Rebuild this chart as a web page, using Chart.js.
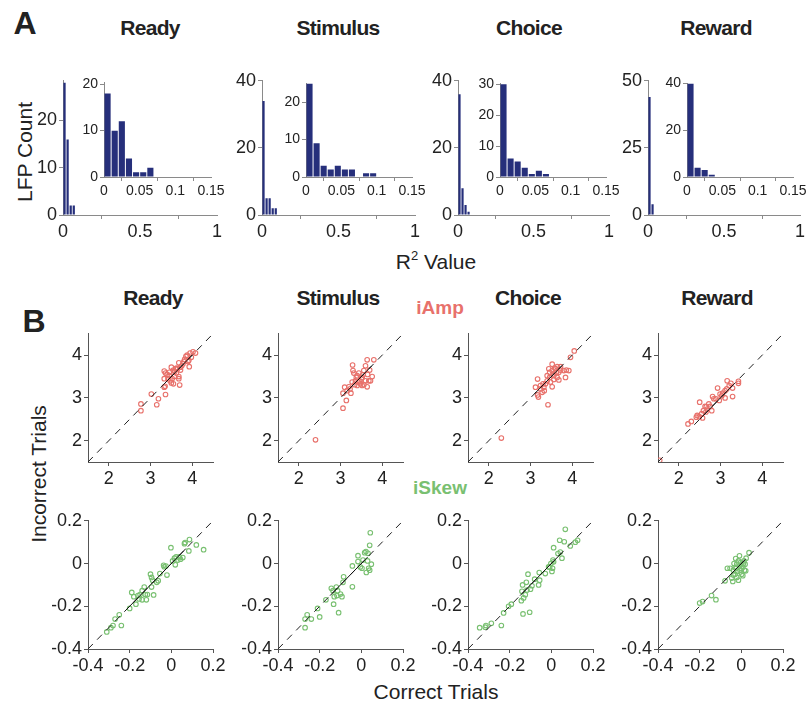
<!DOCTYPE html>
<html><head><meta charset="utf-8">
<script src="https://cdn.jsdelivr.net/npm/chart.js@4.4.0/dist/chart.umd.min.js"></script>
<style>
body{margin:0;background:#fff;width:808px;height:702px;position:relative;overflow:hidden;font-family:"Liberation Sans",Arial,sans-serif;color:#222}
canvas{position:absolute}
.t{position:absolute;white-space:nowrap;transform:translate(-50%,-50%);line-height:1}
.title{font-size:21px;font-weight:bold;letter-spacing:-0.7px}
.lab{font-size:21px}
.v{transform:translate(-50%,-50%) rotate(-90deg)}
</style></head><body>
<div class="t" style="left:25px;top:23px;font-size:32px;font-weight:bold">A</div>
<div class="t" style="left:34px;top:321px;font-size:32px;font-weight:bold">B</div>
<div class="t title" style="left:150px;top:27px">Ready</div>
<div class="t title" style="left:338px;top:27px">Stimulus</div>
<div class="t title" style="left:529px;top:27px">Choice</div>
<div class="t title" style="left:716px;top:27px">Reward</div>
<div class="t title" style="left:153px;top:297px">Ready</div>
<div class="t title" style="left:338px;top:297px">Stimulus</div>
<div class="t title" style="left:528px;top:297px">Choice</div>
<div class="t title" style="left:717px;top:297px">Reward</div>
<div class="t lab v" style="left:24px;top:152px">LFP Count</div>
<div class="t lab" style="left:436px;top:261px">R<sup style="font-size:13px;vertical-align:9px;line-height:0">2</sup> Value</div>
<div class="t lab v" style="left:38px;top:474px">Incorrect Trials</div>
<div class="t lab" style="left:436px;top:691px">Correct Trials</div>
<div class="t" style="left:440px;top:307px;font-size:19px;font-weight:bold;color:#e8716b">iAmp</div>
<div class="t" style="left:440px;top:487px;font-size:19px;font-weight:bold;color:#79c071">iSkew</div>
<script>
// ---------- DATA ----------
const events = ['Ready', 'Stimulus', 'Choice', 'Reward'];
const mainBinWidth = 0.02;
const insetBinWidth = 0.01;
const mainCountsReady = [28, 16, 2, 2];
const mainCountsStimulus = [34, 5, 5, 2, 2];
const mainCountsChoice = [36, 8, 3, 1];
const mainCountsReward = [44, 4];
const insetCountsReady = [18, 10, 12, 4, 1, 1, 2];
const insetCountsStimulus = [25, 9, 3, 2, 3, 2, 2, 0, 1, 1];
const insetCountsChoice = [30, 6, 5, 3, 1, 2, 1];
const insetCountsReward = [40, 4, 3, 1];
const mainXTicks = [0, 0.5, 1];
const insetXTicks = [0, 0.05, 0.1, 0.15];
const mainYTicks = [[0, 10, 20], [0, 20, 40], [0, 20, 40], [0, 25, 50]];
const mainYMax = [28.4, 40, 40, 50];
const insetYTicks = [[0, 10, 20], [0, 10, 20], [0, 10, 20, 30], [0, 20, 40]];
const insetYMax = [20.4, 25, 30.3, 40];

const ampTicks = [2, 3, 4];
const ampRange = [1.5, 4.5];
const skewTicks = [-0.4, -0.2, 0, 0.2];
const skewRange = [-0.4, 0.2];

const ampReady = [[2.77,2.86],[2.77,2.70],[3.02,3.09],[3.15,2.84],[3.19,2.98],[3.33,3.25],[3.35,3.27],[3.36,3.08],[3.33,3.63],[3.36,3.58],[3.33,3.45],[3.4,3.55],[3.42,3.45],[3.45,3.6],[3.47,3.4],[3.5,3.35],[3.52,3.45],[3.55,3.33],[3.5,3.72],[3.55,3.65],[3.57,3.5],[3.6,3.68],[3.62,3.7],[3.65,3.68],[3.68,3.5],[3.68,3.45],[3.7,3.3],[3.68,3.82],[3.72,3.72],[3.75,3.75],[3.78,3.8],[3.8,3.85],[3.82,3.9],[3.85,3.97],[3.88,4.0],[3.9,3.85],[3.92,3.88],[3.93,3.73],[3.95,4.05],[3.98,3.95],[4.02,4.08],[4.08,4.05],[3.62,3.58],[3.45,3.52],[3.58,3.62],[3.72,3.65]];
const ampStimulus = [[2.4,2.02],[3.06,2.76],[3.14,2.94],[3.06,3.11],[3.25,3.11],[3.1,3.25],[3.2,3.26],[3.28,3.37],[3.29,3.77],[3.3,3.64],[3.32,3.58],[3.4,3.52],[3.42,3.37],[3.48,3.33],[3.52,3.29],[3.56,3.31],[3.44,3.58],[3.5,3.44],[3.56,3.64],[3.6,3.75],[3.64,3.89],[3.65,3.55],[3.7,3.65],[3.8,3.89],[3.76,3.5],[3.72,3.4],[3.64,3.26],[3.6,3.4],[3.36,3.4],[3.38,3.48],[3.52,3.48],[3.23,3.21],[3.16,3.17],[3.34,3.31],[3.46,3.4],[3.54,3.54],[3.68,3.4],[3.4,3.29]];
const ampChoice = [[2.3,2.06],[3.42,2.84],[3.17,3.07],[3.19,3.02],[3.17,3.44],[3.12,3.25],[3.24,3.21],[3.32,3.25],[3.33,3.17],[3.3,3.33],[3.4,3.4],[3.44,3.68],[3.46,3.48],[3.52,3.26],[3.52,3.79],[3.54,3.56],[3.56,3.43],[3.6,3.68],[3.64,3.73],[3.68,3.6],[3.72,3.65],[3.68,3.42],[3.8,3.64],[3.84,3.48],[3.86,3.65],[3.92,3.64],[3.96,3.95],[4.05,4.1],[3.48,3.37],[3.56,3.52],[3.62,3.6],[3.4,3.52],[3.36,3.33],[3.24,3.29],[3.28,3.13],[3.46,3.6],[3.52,3.64],[3.58,3.7],[3.64,3.48],[3.72,3.73]];
const ampReward = [[1.54,1.54],[2.22,2.39],[2.3,2.45],[2.44,2.59],[2.49,2.56],[2.55,2.63],[2.5,2.9],[2.59,2.7],[2.63,2.8],[2.68,2.74],[2.72,2.86],[2.79,2.7],[2.81,3.03],[2.89,2.98],[2.93,3.23],[2.97,2.94],[2.99,3.09],[3.05,3.11],[3.11,3.17],[3.11,3.0],[3.16,3.4],[3.21,3.29],[3.25,3.34],[3.29,3.23],[3.29,3.03],[3.43,3.39],[3.43,3.34],[2.57,2.53],[2.65,2.67],[2.75,2.8],[2.84,2.98],[3.03,3.05],[3.15,3.21],[2.42,2.55],[2.66,2.79]];
const skewReady = [[-0.31,-0.32],[-0.29,-0.30],[-0.28,-0.29],[-0.27,-0.26],[-0.25,-0.24],[-0.24,-0.29],[-0.2,-0.21],[-0.19,-0.135],[-0.18,-0.155],[-0.17,-0.19],[-0.16,-0.15],[-0.15,-0.145],[-0.14,-0.127],[-0.14,-0.17],[-0.13,-0.11],[-0.125,-0.145],[-0.12,-0.17],[-0.1,-0.05],[-0.095,-0.065],[-0.09,-0.078],[-0.095,-0.11],[-0.085,-0.147],[-0.07,-0.088],[-0.063,-0.08],[-0.055,-0.047],[-0.037,-0.008],[-0.034,-0.015],[-0.026,-0.012],[-0.021,-0.054],[-0.002,0.074],[0.006,0.012],[0.015,0.025],[0.019,-0.006],[0.023,0.031],[0.031,0.016],[0.039,0.031],[0.044,0.02],[0.055,0.028],[0.063,0.093],[0.066,0.098],[0.084,0.059],[0.087,0.112],[0.12,0.087],[0.155,0.065],[-0.115,-0.145],[-0.155,-0.166]];
const skewStimulus = [[-0.27,-0.3],[-0.27,-0.26],[-0.26,-0.24],[-0.24,-0.26],[-0.21,-0.21],[-0.2,-0.25],[-0.17,-0.17],[-0.144,-0.116],[-0.133,-0.19],[-0.13,-0.155],[-0.12,-0.11],[-0.117,-0.15],[-0.109,-0.23],[-0.1,-0.143],[-0.093,-0.155],[-0.088,-0.088],[-0.085,-0.062],[-0.136,-0.127],[-0.114,-0.127],[-0.043,-0.109],[-0.043,-0.011],[-0.016,0.037],[-0.016,0.009],[-0.005,-0.016],[0.003,-0.022],[0.008,0.016],[0.016,0.051],[0.022,0.056],[0.024,-0.042],[0.03,0.012],[0.032,0.048],[0.035,-0.022],[0.04,0.085],[0.043,0.144],[0.048,-0.003],[0.04,-0.031]];
const skewChoice = [[-0.344,-0.3],[-0.317,-0.298],[-0.314,-0.29],[-0.288,-0.28],[-0.24,-0.29],[-0.229,-0.231],[-0.205,-0.2],[-0.192,-0.19],[-0.144,-0.174],[-0.141,-0.13],[-0.138,-0.1],[-0.136,-0.236],[-0.133,-0.161],[-0.125,-0.146],[-0.12,-0.088],[-0.117,-0.124],[-0.112,-0.05],[-0.104,-0.228],[-0.1,-0.12],[-0.093,-0.104],[-0.08,-0.073],[-0.061,-0.1],[-0.058,-0.042],[-0.056,-0.078],[-0.029,-0.047],[-0.013,-0.016],[-0.002,0.0],[0.003,-0.037],[0.006,-0.022],[0.008,0.016],[0.011,0.074],[0.011,0.008],[0.032,0.047],[0.04,0.109],[0.043,0.054],[0.051,0.025],[0.062,0.102],[0.067,0.16],[0.091,0.082],[0.115,0.1],[0.126,0.109],[-0.008,-0.016]];
const skewReward = [[-0.2,-0.185],[-0.186,-0.178],[-0.143,-0.15],[-0.122,-0.169],[-0.078,-0.081],[-0.067,-0.022],[-0.054,-0.022],[-0.046,-0.068],[-0.041,-0.084],[-0.038,-0.031],[-0.035,0.0],[-0.03,-0.05],[-0.027,0.023],[-0.025,-0.022],[-0.022,-0.003],[-0.019,-0.037],[-0.014,0.012],[-0.009,0.036],[-0.009,-0.011],[-0.006,-0.031],[-0.003,0.005],[-0.001,-0.022],[0.002,-0.05],[0.007,-0.016],[0.01,0.0],[0.013,0.012],[0.015,-0.031],[0.018,-0.003],[0.021,-0.034],[0.023,0.025],[0.007,-0.057],[-0.014,-0.078],[0.037,0.051],[-0.022,-0.065],[-0.038,-0.054],[-0.03,-0.019]];
// short solid segments of the identity line over each cluster
const ampSegments = [[3.35, 4.0], [3.1, 3.75], [3.1, 3.75], [2.5, 3.3]];
const skewSegments = [[-0.22, 0.07], [-0.15, 0.03], [-0.15, 0.05], [-0.08, 0.02]];

// ---------- RENDER ----------
const NAVY = '#262f7b', RED = '#e8716b', GREEN = '#79c071';
const FONT = '"Liberation Sans", Arial, sans-serif';
Chart.defaults.font.family = FONT;
Chart.defaults.color = '#222';

function fmt(v) { return String(+(+v).toFixed(4)); }

function axis(ticks, min, max, fontSize, col) {
  return {
    type: 'linear', min: min, max: max, offset: false,
    afterBuildTicks: s => { s.ticks = ticks.map(v => ({ value: v })); },
    ticks: { font: { size: fontSize }, padding: 2, maxRotation: 0, autoSkip: false, callback: fmt, color: '#222' },
    grid: { display: true, drawOnChartArea: false, drawTicks: true, tickLength: 4, color: col, lineWidth: 1 },
    border: { display: true, color: col, width: 1 }
  };
}

function makeChart(area, pad, config) {
  const c = document.createElement('canvas');
  const w = area.w + pad.l + pad.r, h = area.h + pad.t + pad.b;
  c.width = w; c.height = h;
  c.style.left = (area.x - pad.l) + 'px'; c.style.top = (area.y - pad.t) + 'px';
  c.style.width = w + 'px'; c.style.height = h + 'px';
  document.body.appendChild(c);
  config.options.responsive = false;
  config.options.animation = false;
  config.options.layout = { padding: { top: pad.t, right: pad.r, left: 0, bottom: 0 } };
  config.options.plugins = { legend: { display: false }, tooltip: { enabled: false } };
  config.options.scales.x.afterFit = s => { s.height = pad.b; };
  config.options.scales.y.afterFit = s => { s.width = pad.l; };
  return new Chart(c, config);
}

function binned(counts, width) {
  return counts.map((c, i) => ({ x: (i + 0.5) * width, y: c }));
}

const mainCounts = [mainCountsReady, mainCountsStimulus, mainCountsChoice, mainCountsReward];
const insetCounts = [insetCountsReady, insetCountsStimulus, insetCountsChoice, insetCountsReward];
const mainAreas = [{x:63,y:80,w:154,h:135},{x:262,y:80,w:153,h:135},{x:458,y:80,w:151,h:135},{x:648,y:80,w:152,h:135}];
const insetAreas = [{x:104,y:82,w:107,h:95},{x:306,y:83,w:106,h:94},{x:500,y:83,w:106,h:94},{x:687,y:83,w:106,h:94}];

events.forEach((ev, i) => {
  makeChart(mainAreas[i], { l: 40, r: 14, t: 12, b: 30 }, {
    type: 'bar',
    data: { datasets: [{ data: binned(mainCounts[i], mainBinWidth), backgroundColor: NAVY, barPercentage: 0.72, categoryPercentage: 1 }] },
    options: { scales: { x: axis(mainXTicks, 0, 1, 18, '#8a8a8a'), y: axis(mainYTicks[i], 0, mainYMax[i], 18, '#8a8a8a') } }
  });
  makeChart(insetAreas[i], { l: 30, r: 18, t: 10, b: 20 }, {
    type: 'bar',
    data: { datasets: [{ data: binned(insetCounts[i], insetBinWidth), backgroundColor: NAVY, barPercentage: 0.86, categoryPercentage: 1 }] },
    options: { scales: { x: axis(insetXTicks, 0, 0.15, 14, '#8a8a8a'), y: axis(insetYTicks[i], 0, insetYMax[i], 14, '#8a8a8a') } }
  });
});

const ampData = [ampReady, ampStimulus, ampChoice, ampReward];
const skewData = [skewReady, skewStimulus, skewChoice, skewReward];
const colLeft = [88, 278, 468, 658];

function scatter(area, pts, color, ticks, range, seg) {
  makeChart(area, { l: 36, r: 18, t: 12, b: 30 }, {
    type: 'scatter',
    data: { datasets: [
      { type: 'line', data: [{ x: seg[0], y: seg[0] }, { x: seg[1], y: seg[1] }], borderColor: '#111', borderWidth: 1, pointRadius: 0, order: 0 },
      { type: 'line', data: [{ x: range[0], y: range[0] }, { x: range[1], y: range[1] }], borderColor: '#222', borderWidth: 1, borderDash: [7, 6], pointRadius: 0, order: 1 },
      { data: pts.map(p => ({ x: p[0], y: p[1] })), borderColor: color, backgroundColor: 'rgba(255,255,255,0)', pointRadius: 2.3, borderWidth: 1.1, order: 2 }
    ] },
    options: { scales: { x: axis(ticks, range[0], range[1], 18, '#555'), y: axis(ticks, range[0], range[1], 18, '#555') } }
  });
}

events.forEach((ev, i) => {
  scatter({ x: colLeft[i], y: 333, w: 125, h: 129 }, ampData[i], RED, ampTicks, ampRange, ampSegments[i]);
  scatter({ x: colLeft[i], y: 520, w: 125, h: 129 }, skewData[i], GREEN, skewTicks, skewRange, skewSegments[i]);
});
</script>
</body></html>
